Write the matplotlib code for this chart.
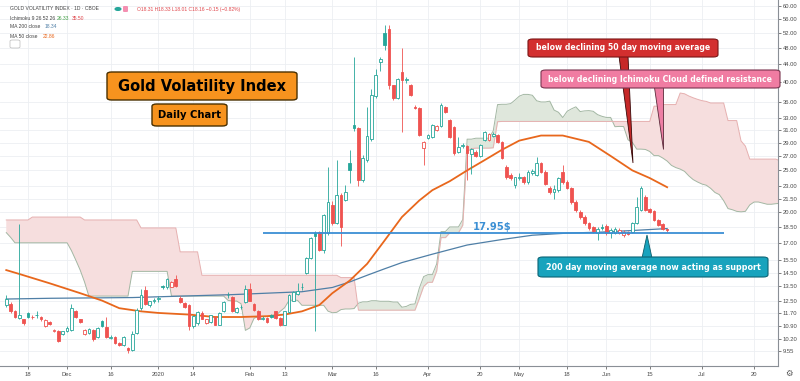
import numpy as np
import pandas as pd
import matplotlib
matplotlib.use("Agg")
import matplotlib.pyplot as plt
from matplotlib.patches import Polygon, FancyBboxPatch
from matplotlib.ticker import NullLocator

# ---------------- data ----------------
first_day = "2019-11-11"
last_day = "2020-07-31"
holidays = ["2019-11-28", "2019-12-25", "2020-01-01", "2020-01-20",
            "2020-02-17", "2020-04-10", "2020-05-25", "2020-07-03"]

opens = [12.2, 12.3, 11.8, 11.4, 11.3, 11.7, 11.45, 11.55, 11.45, 10.9,
         11.15, 10.6, 10.65, 10.45, 10.6, 10.7, 11.85, 11.3, 10.45, 10.5,
         10.7, 10.3, 11.2, 10.85, 10.25, 10.3, 9.95, 9.85, 9.7, 9.6,
         10.5, 12.0, 13.2, 12.2, 12.5, 12.6, 13.5, 13.4, 13.45, 14.0,
         12.7, 12.35, 12.2, 10.9, 11.1, 11.7, 11.1, 11.15, 11.45, 11.0,
         11.8, 12.85, 12.75, 11.75, 12.05, 12.4, 13.3, 12.3, 11.85, 11.35,
         11.4, 11.55, 11.8, 11.4, 11.0, 11.75, 12.5, 12.95, 13.4, 14.5,
         15.7, 17.9, 18.0, 16.4, 17.9, 20.8, 18.9, 21.9, 21.3, 26.0,
         31.8, 31.3, 23.7, 26.4, 29.5, 37.2, 44.5, 52.0, 53.0, 39.3,
         36.8, 42.2, 40.5, 39.4, 35.1, 34.8, 28.2, 29.7, 29.9, 31.0,
         31.7, 35.0, 32.7, 31.5, 27.6, 28.5, 28.4, 27.3, 27.6, 27.0,
         29.4, 29.4, 30.1, 30.2, 29.1, 25.5, 24.4, 23.1, 24.0, 24.1,
         23.5, 24.6, 24.4, 26.0, 24.8, 22.8, 22.3, 22.5, 24.8, 23.5,
         22.8, 21.1, 20.0, 19.5, 18.9, 18.5, 17.9, 18.5, 18.6, 17.9,
         17.9, 17.95, 17.7, 18.0, 18.0, 18.9, 20.2, 21.7, 20.3, 20.1,
         19.2, 18.8, 18.31]
highs = [12.9, 12.4, 11.9, 18.8, 11.35, 11.75, 11.6, 11.8, 11.5, 11.3,
         11.2, 10.75, 10.7, 10.65, 10.9, 12.3, 11.9, 11.35, 10.75, 10.8,
         10.75, 10.85, 11.25, 11.45, 10.4, 10.35, 10.0, 10.35, 9.75, 10.6,
         12.0, 13.3, 13.5, 12.5, 12.7, 12.8, 13.6, 14.1, 13.9, 14.3,
         12.8, 12.4, 12.25, 11.6, 11.8, 11.8, 11.35, 11.6, 11.5, 11.75,
         12.5, 13.1, 12.8, 12.05, 12.2, 13.6, 13.7, 12.35, 11.9, 11.5,
         11.45, 11.65, 11.85, 11.45, 11.85, 12.95, 13.15, 13.7, 13.7, 15.8,
         17.5, 18.1, 18.1, 19.8, 25.5, 21.2, 26.4, 22.2, 23.1, 27.9,
         45.7, 31.5, 27.2, 35.0, 38.5, 43.0, 45.8, 54.2, 54.3, 39.5,
         41.0, 47.9, 41.2, 39.6, 35.4, 35.0, 29.3, 30.4, 32.0, 31.9,
         35.8, 35.3, 32.9, 31.7, 29.9, 28.9, 28.6, 28.2, 27.8, 28.8,
         30.9, 30.5, 30.6, 30.4, 29.2, 25.7, 24.6, 24.2, 24.6, 24.3,
         25.0, 25.2, 26.8, 26.2, 25.0, 23.0, 23.1, 24.2, 25.7, 23.7,
         22.9, 21.3, 20.2, 19.7, 19.0, 18.6, 18.5, 18.8, 18.8, 18.4,
         18.5, 18.4, 18.2, 18.1, 19.0, 21.7, 23.0, 21.9, 20.5, 20.2,
         19.3, 18.9, 18.33]
lows = [12.1, 11.7, 11.4, 11.3, 11.0, 11.4, 11.3, 11.4, 11.2, 10.85,
        11.0, 10.55, 10.0, 10.4, 10.55, 10.65, 11.4, 11.1, 10.4, 10.45,
        10.1, 10.25, 10.85, 10.25, 10.2, 9.9, 9.8, 9.8, 9.45, 9.55,
        10.45, 11.9, 12.2, 12.1, 12.35, 12.4, 13.3, 13.3, 13.4, 13.4,
        12.35, 12.0, 10.7, 10.8, 11.0, 11.3, 11.05, 11.1, 10.95, 10.95,
        11.75, 12.7, 11.75, 11.7, 11.95, 12.35, 12.45, 11.85, 11.25, 11.25,
        11.1, 11.4, 11.35, 10.9, 10.95, 11.7, 12.45, 12.9, 13.2, 14.4,
        15.6, 10.6, 16.3, 16.1, 17.7, 18.7, 18.8, 16.7, 21.2, 23.4,
        30.8, 23.0, 23.5, 26.2, 29.3, 36.8, 42.5, 47.5, 38.5, 36.3,
        36.5, 30.7, 39.8, 37.2, 34.6, 30.0, 25.7, 29.5, 29.7, 30.8,
        31.5, 33.9, 29.7, 27.2, 27.4, 28.2, 23.7, 24.5, 26.8, 26.9,
        29.2, 29.2, 29.9, 28.9, 26.5, 23.9, 23.8, 22.8, 23.7, 23.3,
        23.3, 24.4, 24.3, 24.6, 23.1, 22.1, 21.5, 22.3, 23.3, 22.6,
        20.9, 20.0, 19.3, 18.7, 18.2, 17.9, 17.3, 18.2, 17.7, 17.4,
        17.8, 17.8, 17.5, 17.75, 17.9, 18.8, 20.1, 20.1, 19.9, 19.1,
        18.6, 18.2, 18.01]
closes = [12.6, 11.8, 11.45, 11.6, 11.1, 11.45, 11.42, 11.58, 11.3, 11.25,
          11.05, 10.7, 10.1, 10.6, 10.8, 12.0, 11.45, 11.15, 10.7, 10.75,
          10.2, 10.8, 10.9, 10.3, 10.32, 9.97, 9.85, 10.3, 9.6, 10.45,
          11.9, 12.9, 12.3, 12.45, 12.52, 12.65, 13.4, 14.0, 13.8, 13.5,
          12.4, 12.05, 10.9, 11.5, 11.75, 11.35, 11.3, 11.55, 11.0, 11.7,
          12.4, 12.9, 11.8, 12.0, 12.1, 13.3, 12.5, 11.9, 11.3, 11.4,
          11.15, 11.45, 11.4, 10.95, 11.8, 12.9, 13.1, 13.15, 13.45, 15.7,
          17.4, 17.6, 16.4, 19.7, 21.1, 18.9, 21.9, 18.5, 22.3, 25.1,
          31.3, 23.7, 26.7, 30.0, 37.4, 41.5, 45.2, 48.8, 39.4, 36.8,
          40.7, 40.5, 40.6, 37.4, 34.9, 30.2, 29.1, 30.2, 31.8, 31.6,
          35.4, 34.1, 29.9, 27.4, 28.3, 28.6, 27.4, 28.0, 27.0, 28.6,
          30.7, 30.3, 30.4, 29.1, 26.7, 24.1, 24.0, 24.1, 24.2, 23.5,
          24.8, 24.9, 26.0, 24.8, 23.3, 22.3, 22.6, 24.0, 23.5, 22.8,
          21.1, 20.2, 19.5, 18.9, 18.4, 18.1, 18.3, 18.35, 17.9, 18.2,
          18.3, 18.2, 18.0, 17.85, 18.9, 20.6, 22.8, 20.2, 20.0, 19.2,
          18.7, 18.31, 18.16]

# moving averages (bar index, value)
ma50_bar = [0, 3, 10, 17, 22, 26, 31, 35, 42, 48, 54, 60, 64, 68, 72, 75, 79,
            83, 87, 91, 95, 98, 102, 106, 110, 114, 118, 123, 128, 134, 139,
            144, 148, 152]
ma50_val = [14.7, 14.4, 13.7, 13.0, 12.5, 12.0, 11.8, 11.7, 11.6, 11.45, 11.45,
            11.5, 11.6, 11.8, 12.2, 13.0, 13.9, 15.2, 17.2, 19.5, 21.3, 22.5,
            23.6, 25.0, 26.4, 27.9, 29.3, 30.1, 30.1, 29.1, 27.0, 25.0, 24.0,
            22.86]
ma200_bar = [0, 10, 29, 52, 68, 75, 79, 83, 87, 91, 98, 106, 114, 121, 129,
             137, 144, 152]
ma200_val = [12.6, 12.65, 12.7, 12.9, 13.1, 13.4, 13.8, 14.3, 14.8, 15.3,
             16.0, 16.8, 17.3, 17.7, 17.9, 18.0, 18.15, 18.34]

# Ichimoku leading spans before the loaded history covers them (step starts)
span_a_early_bar = [0, 1, 2, 15, 16, 17, 18, 19, 29, 38]
span_a_early_val = [17.95, 17.5, 17.0, 16.3, 15.5, 14.7, 13.8, 12.8, 14.6, 12.8]
span_b_early_bar = [0, 6, 18, 31, 40, 45]
span_b_early_val = [19.2, 19.5, 19.2, 18.4, 16.2, 14.3]

support_level = 17.95
support_from, support_to = "2020-02-06", "2020-07-09"

y_ticks = [9.55, 10.2, 10.9, 11.7, 12.5, 13.5, 14.5, 15.5, 17, 18.5, 20, 21.5,
           23, 25, 27, 29, 31, 33, 36, 40, 44, 48, 52, 56, 60]
x_tick_dates = ["2019-11-18", "2019-12-02", "2019-12-16", "2020-01-02",
                "2020-01-14", "2020-02-03", "2020-02-13", "2020-03-02",
                "2020-03-16", "2020-04-01", "2020-04-20", "2020-05-01",
                "2020-05-18", "2020-06-01", "2020-06-15", "2020-07-01",
                "2020-07-20"]
x_tick_labels = ["18", "Dec", "16", "2020", "14", "Feb", "13", "Mar", "16",
                 "Apr", "20", "May", "18", "Jun", "15", "Jul", "20"]

# ---------------- derived ----------------
dates = pd.bdate_range(first_day, last_day)
dates = dates[~dates.isin(pd.to_datetime(holidays))]
pos = {d: k for k, d in enumerate(dates)}

O = np.array(opens); H = np.array(highs); L = np.array(lows); C = np.array(closes)
n = len(C)
xb = np.arange(n)

disp = 26
total = n + disp
span_a = np.full(total, np.nan)
span_b = np.full(total, np.nan)
edges = span_a_early_bar + [disp + 25]
for s, e, v in zip(edges[:-1], edges[1:], span_a_early_val):
    span_a[s:e] = v
edges = span_b_early_bar + [disp + 51]
for s, e, v in zip(edges[:-1], edges[1:], span_b_early_val):
    span_b[s:e] = v
for i in range(n):
    if i >= 25:
        tenkan = (H[i - 8:i + 1].max() + L[i - 8:i + 1].min()) / 2
        kijun = (H[i - 25:i + 1].max() + L[i - 25:i + 1].min()) / 2
        span_a[i + disp] = (tenkan + kijun) / 2
    if i >= 51:
        span_b[i + disp] = (H[i - 51:i + 1].max() + L[i - 51:i + 1].min()) / 2
xs = np.arange(total)

# ---------------- figure ----------------
W, Hpx = 800, 381
fig = plt.figure(figsize=(W / 100, Hpx / 100), dpi=100)
bottom_px = 366
right_px = 778
ax = fig.add_axes([0, 1 - bottom_px / Hpx, right_px / W, bottom_px / Hpx])
ax.set_yscale("log")
ax.set_ylim(8.82, 61.96)
ax.set_xlim(-1.44, 177.5)

TEAL = "#26a69a"
RED = "#ef5350"

# cloud
green_fill = "#dfe7dc"
pink_fill = "#f6dede"
ax.fill_between(xs, span_a, span_b, where=span_a >= span_b, interpolate=True,
                color=green_fill, lw=0, zorder=1)
ax.fill_between(xs, span_a, span_b, where=span_a < span_b, interpolate=True,
                color=pink_fill, lw=0, zorder=1)
ax.plot(xs, span_a, color="#a3b7a3", lw=0.7, zorder=2)
ax.plot(xs, span_b, color="#e6b0b0", lw=0.7, zorder=2)

# moving averages
ax.plot(ma200_bar, ma200_val, color="#4f7fa6", lw=0.9, zorder=3)
ax.plot(ma50_bar, ma50_val, color="#e8671c", lw=1.3, zorder=3)

# candles
prev = np.r_[O[0], C[:-1]]
up = C >= prev
hollow = C > O
col = np.where(up, TEAL, RED)
ax.vlines(xb, L, H, colors=col, lw=0.6, zorder=4)
body_lo = np.minimum(O, C)
body_h = np.maximum(np.abs(C - O), body_lo * 0.004)
face = np.where(hollow, "white", col)
ax.bar(xb, body_h, bottom=body_lo, width=0.62, color=face, edgecolor=col,
       linewidth=0.6, zorder=5)

# support line
ax.hlines(support_level, pos[pd.Timestamp(support_from)], pos[pd.Timestamp(support_to)],
          color="#3b8fd4", lw=1.3, zorder=6)

# axes styling
ax.yaxis.tick_right()
ax.set_yticks(y_ticks)
ax.set_yticklabels([f"{t:.2f}" for t in y_ticks])
ax.yaxis.set_minor_locator(NullLocator())
ax.set_xticks([pos[pd.Timestamp(d)] for d in x_tick_dates])
ax.set_xticklabels(x_tick_labels)
ax.tick_params(axis="both", labelsize=4.2, colors="#4a4a4a", length=2, width=0.5, pad=1.5)
ax.tick_params(axis="x", pad=2.5)
for lab in ax.get_xticklabels() + ax.get_yticklabels():
    lab.set_fontfamily("Liberation Sans")
ax.grid(True, color="#eceff2", lw=0.6, zorder=0)
ax.set_axisbelow(True)
for s in ["top", "left"]:
    ax.spines[s].set_visible(False)
for s in ["right", "bottom"]:
    ax.spines[s].set_color("#8a8f96")
    ax.spines[s].set_linewidth(0.8)


# ---------------- annotations (pixel helpers) ----------------
def fx(x):
    return x / W


def fy(y):
    return 1 - y / Hpx


def box(x0, y0, x1, y1, fc, ec, text, size, tc, lw=0.8):
    p = FancyBboxPatch((fx(x0), fy(y1)), fx(x1) - fx(x0), fy(y0) - fy(y1),
                       boxstyle="round,pad=0,rounding_size=0.006",
                       transform=fig.transFigure, fc=fc, ec=ec, lw=lw, zorder=10)
    fig.add_artist(p)
    fig.text(fx((x0 + x1) / 2), fy((y0 + y1) / 2), text, ha="center", va="center",
             fontsize=size, fontweight="bold", color=tc, zorder=11,
             family="DejaVu Sans")


def pointer(pts, fc, ec):
    p = Polygon([(fx(a), fy(b)) for a, b in pts], closed=True,
                transform=fig.transFigure, fc=fc, ec=ec, lw=0.6, zorder=9)
    fig.add_artist(p)


box(107, 72, 297, 100, "#f7931e", "#4a3000", "Gold Volatility Index", 10.5, "black", 1.0)
box(152, 104, 227, 126, "#f7931e", "#4a3000", "Daily Chart", 7.2, "black", 1.0)

pointer([(619, 56), (628, 56), (633, 163)], "#c62828", "#3a0a0a")
box(528, 39, 718, 57, "#d32f2f", "#7a1515", "below declining 50 day moving average", 5.6, "white")

pointer([(654, 87), (663, 87), (663, 149)], "#ee7ea4", "#5a2a3a")
box(541, 70, 780, 88, "#f07ca2", "#7a3550", "below declining Ichimoku Cloud defined resistance", 5.6, "white")

pointer([(642, 258), (652, 258), (647, 235)], "#18a3bd", "#0b5c6b")
box(538, 257, 768, 277, "#18a3bd", "#0b6475", "200 day moving average now acting as support", 5.8, "white")

fig.text(fx(492), fy(227), "17.95$", ha="center", va="center", fontsize=7.2,
         fontweight="bold", color="#3b8fd4", family="DejaVu Sans")

# legend (top-left)
lf = dict(fontsize=3.6, va="center", family="Liberation Sans")
fig.text(fx(10), fy(9), "GOLD VOLATILITY INDEX · 1D · CBOE", color="#444", **lf)
fig.text(fx(137), fy(9), "O18.31 H18.33 L18.01 C18.16 −0.15 (−0.82%)", color="#e0474c", **lf)
fig.add_artist(plt.Circle((fx(118), fy(9)), 0.0035, transform=fig.transFigure,
                          color="#26a69a", zorder=10))
fig.add_artist(FancyBboxPatch((fx(123), fy(12)), fx(5), fy(6) - fy(12),
                              boxstyle="round,pad=0,rounding_size=0.002",
                              transform=fig.transFigure, fc="#f48fb1", ec="none", zorder=10))
fig.text(fx(10), fy(18), "Ichimoku 9 26 52 26", color="#444", **lf)
fig.text(fx(57), fy(18), "26.33", color="#43a047", **lf)
fig.text(fx(72), fy(18), "35.50", color="#e0474c", **lf)
fig.text(fx(10), fy(27), "MA 200 close", color="#444", **lf)
fig.text(fx(45), fy(27), "18.34", color="#4f7fa6", **lf)
fig.text(fx(10), fy(36), "MA 50 close", color="#444", **lf)
fig.text(fx(43), fy(36), "22.86", color="#e8671c", **lf)
fig.add_artist(FancyBboxPatch((fx(10), fy(48)), fx(10), fy(40) - fy(48),
                              boxstyle="round,pad=0,rounding_size=0.003",
                              transform=fig.transFigure, fc="white", ec="#bbb", lw=0.5, zorder=10))
fig.text(fx(15), fy(44.5), "^", ha="center", va="center", fontsize=4, color="#555")
fig.text(fx(789), fy(373), "\u2699", ha="center", va="center", fontsize=6,
         color="#555", family="DejaVu Sans")

fig.savefig("out.png", dpi=100, facecolor="white")
